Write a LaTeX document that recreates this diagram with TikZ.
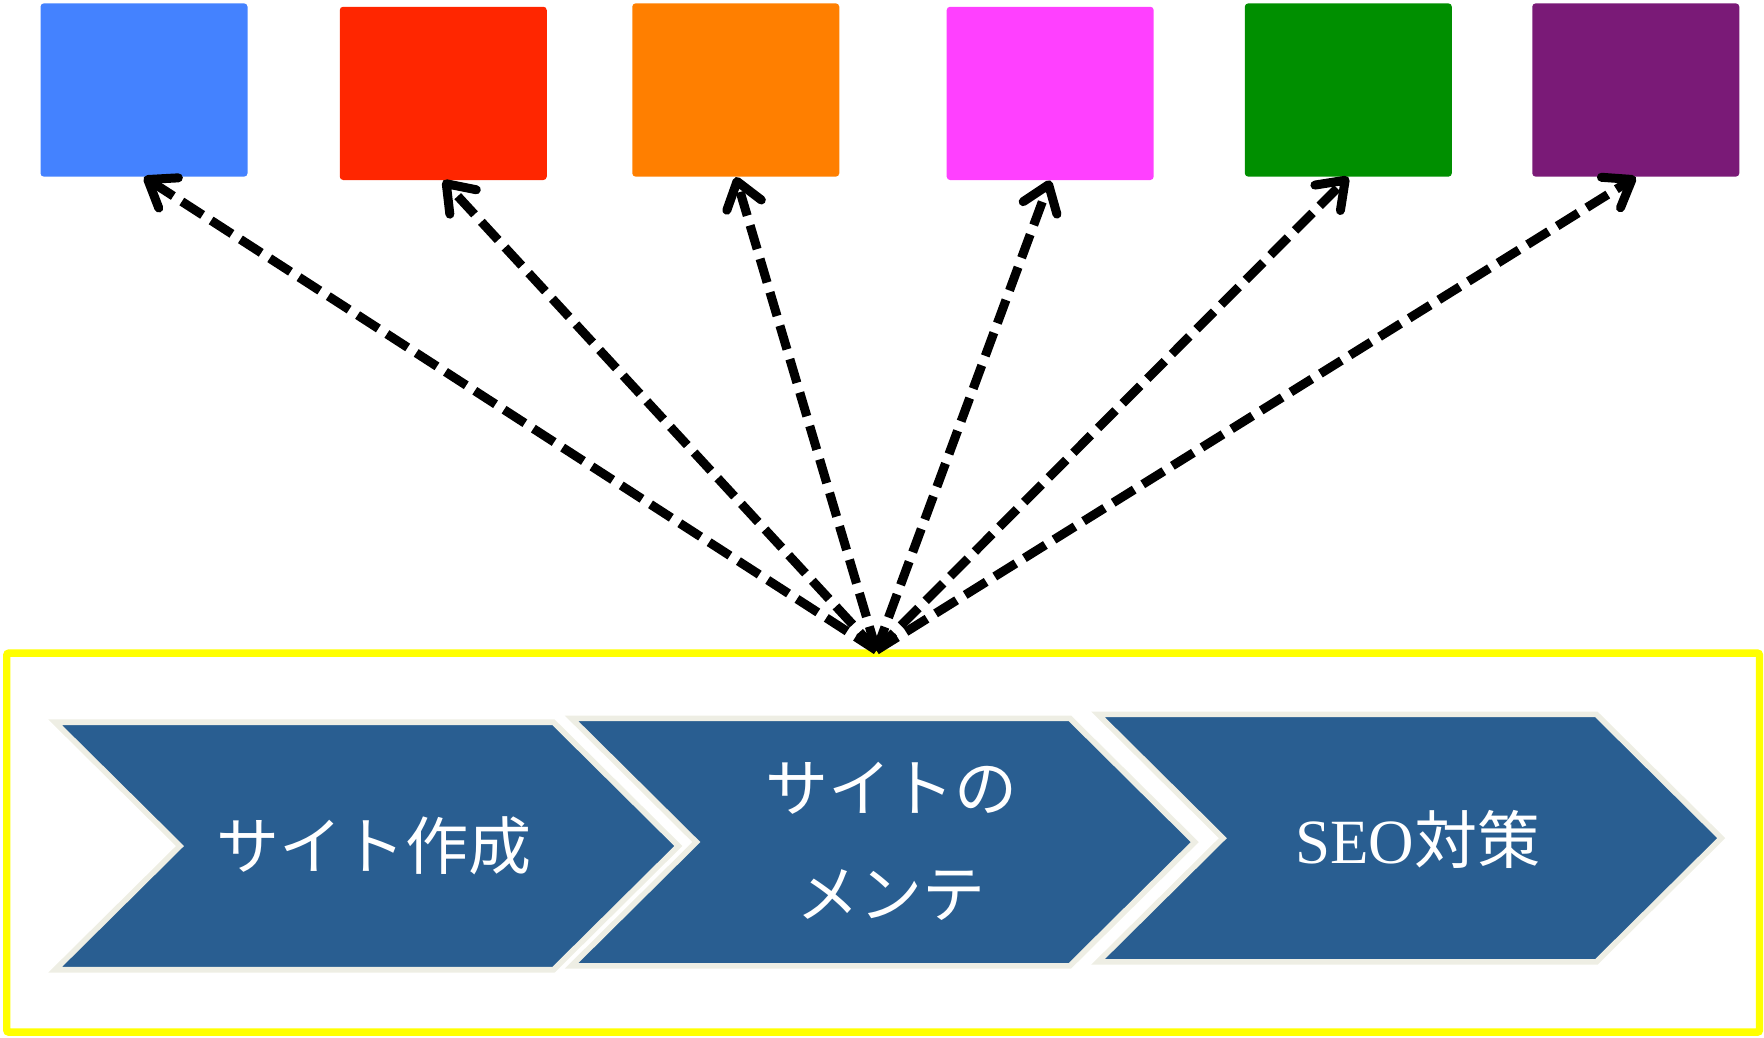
\documentclass[tikz,border=0pt]{standalone}
\usepackage{fontspec}
\setmainfont{Liberation Serif}
\newfontfamily\jp{Noto Sans CJK JP}
\usetikzlibrary{arrows.meta}
\definecolor{cblue}{RGB}{68,130,255}
\definecolor{cred}{RGB}{255,38,0}
\definecolor{corange}{RGB}{255,127,0}
\definecolor{cmagenta}{RGB}{255,64,255}
\definecolor{cgreen}{RGB}{0,143,0}
\definecolor{cpurple}{RGB}{122,26,119}
\definecolor{chevfill}{RGB}{41,94,145}
\definecolor{chevline}{RGB}{238,238,228}
\definecolor{frameyellow}{RGB}{255,255,0}
\begin{document}
\begin{tikzpicture}[x=0.5pt,y=-0.5pt,
  colbox/.style={rectangle, rounded corners=1.5pt, minimum width=92pt, minimum height=77pt, inner sep=0pt, draw=none},
  link/.style={line width=4pt, black, dash pattern=on 11pt off 4.5pt, -{Straight Barb[round,length=11pt,width=16pt]}},
  chevstyle/.style={fill=chevfill, draw=chevline, line width=2.5pt, line join=miter},
  chevtext/.style={text=white, font=\jp\fontsize{28pt}{47pt}\selectfont, align=center, inner sep=0pt},
  frame/.style={draw=frameyellow, line width=3.3pt, rounded corners=1pt, minimum width=779pt, minimum height=168.5pt, inner sep=0pt},
  chevron/.pic={\draw[chevstyle] (0,0) -- (443,0) -- (554,110) -- (443,220) -- (0,220) -- (111,110) -- cycle;}
]
\useasboundingbox (0,0) rectangle (1568,922);
% top boxes
\node[colbox, fill=cblue] (b1) at (128,80) {};
\node[colbox, fill=cred] (b2) at (394,83) {};
\node[colbox, fill=corange] (b3) at (654,80) {};
\node[colbox, fill=cmagenta] (b4) at (933.5,83) {};
\node[colbox, fill=cgreen] (b5) at (1198.5,80) {};
\node[colbox, fill=cpurple] (b6) at (1454,80) {};
% frame
\node[frame] (fr) at (785,749) {};
% chevrons
\pic at (49,642) {chevron};
\pic at (508,638.5) {chevron};
\pic at (976,635) {chevron};
\node[chevtext] (t1) at (332,752) {サイト作成};
\node[chevtext] (t2) at (792,748) {サイトの\\メンテ};
\node[chevtext] (t3) at (1260,746) {{\rmfamily\fontsize{28pt}{34pt}\selectfont SEO}対策};
% arrows
\coordinate (hub) at (779,578);
\foreach \b in {b1,b2,b3,b4,b5,b6}
  \draw[link] (hub) -- (\b.south);
\end{tikzpicture}
\end{document}
